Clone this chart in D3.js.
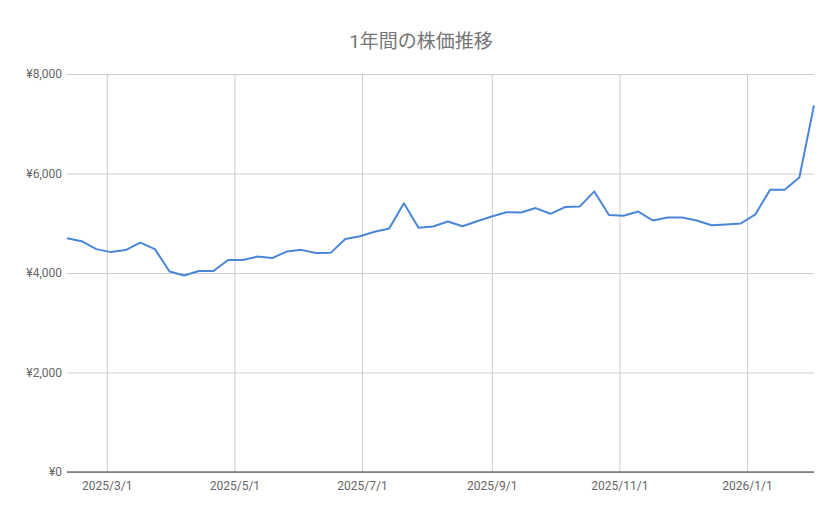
<!DOCTYPE html>
<html>
<head>
<meta charset="utf-8">
<script src="https://cdn.jsdelivr.net/npm/d3@7"></script>
<style>
  body { margin: 0; background: #fff; }
  text { font-family: Roboto, "Noto Sans CJK JP", sans-serif; }
</style>
</head>
<body>
<div id="chart"></div>
<script>
// weekly closing prices, first week to last
var startDate = "2025-02-10";
var prices = [
    4700, 4640, 4480, 4420, 4460, 4610, 4480, 4030, 3950, 4040,
    4040, 4260, 4260, 4330, 4300, 4430, 4465, 4400, 4405, 4685,
    4740, 4830, 4895, 5400, 4910, 4935, 5035, 4940, 5040, 5135,
    5220, 5215, 5305, 5190, 5325, 5335, 5640, 5165, 5150, 5235,
    5055, 5115, 5115, 5055, 4960, 4975, 4995, 5180, 5675, 5675,
    5920, 7370
];
var xTicks = ["2025-03-01", "2025-05-01", "2025-07-01", "2025-09-01", "2025-11-01", "2026-01-01"];
var yTicks = [0, 2000, 4000, 6000, 8000];
var title = "1年間の株価推移";

var width = 839, height = 519;
var margin = { top: 74, right: 25, bottom: 47, left: 67 };

var parse = d3.timeParse("%Y-%m-%d");
var start = parse(startDate);
var data = prices.map(function (v, i) {
    return { date: d3.timeDay.offset(start, i * 7), value: v };
});

var x = d3.scaleTime()
    .domain([data[0].date, data[data.length - 1].date])
    .range([margin.left, width - margin.right]);
var y = d3.scaleLinear()
    .domain([0, 8000])
    .range([height - margin.bottom, margin.top]);

var svg = d3.select("#chart").append("svg")
    .attr("width", width)
    .attr("height", height);

svg.append("text")
    .attr("x", 421)
    .attr("y", 48)
    .attr("text-anchor", "middle")
    .attr("fill", "#757575")
    .style("font-size", "19px")
    .text(title);

// horizontal grid + y labels
var yAxis = svg.append("g")
    .attr("transform", "translate(" + margin.left + ",0)")
    .call(d3.axisLeft(y).tickValues(yTicks)
        .tickSize(-(width - margin.left - margin.right))
        .tickPadding(5)
        .tickFormat(function (d) { return "¥" + d3.format(",")(d); }));
yAxis.select(".domain").remove();
yAxis.selectAll("line").attr("stroke", "#cccccc");
yAxis.selectAll("text").attr("fill", "#666").style("font-size", "12px");

// vertical grid + x labels
var xAxis = svg.append("g")
    .attr("transform", "translate(0," + (height - margin.bottom) + ")")
    .call(d3.axisBottom(x).tickValues(xTicks.map(parse))
        .tickSize(-(height - margin.top - margin.bottom))
        .tickPadding(9)
        .tickFormat(d3.timeFormat("%Y/%-m/%-d")));
xAxis.select(".domain").remove();
xAxis.selectAll("line").attr("stroke", "#cccccc");
xAxis.selectAll("text").attr("fill", "#666").style("font-size", "12px");

// baseline
svg.append("line")
    .attr("x1", margin.left).attr("x2", width - margin.right)
    .attr("y1", y(0)).attr("y2", y(0))
    .attr("stroke", "#333").attr("stroke-width", 1.2);

var line = d3.line()
    .x(function (d) { return x(d.date); })
    .y(function (d) { return y(d.value); });

svg.append("path")
    .datum(data)
    .attr("d", line)
    .attr("fill", "none")
    .attr("stroke", "#4a86d6")
    .attr("stroke-width", 2)
    .attr("stroke-linejoin", "round");
</script>
</body>
</html>
